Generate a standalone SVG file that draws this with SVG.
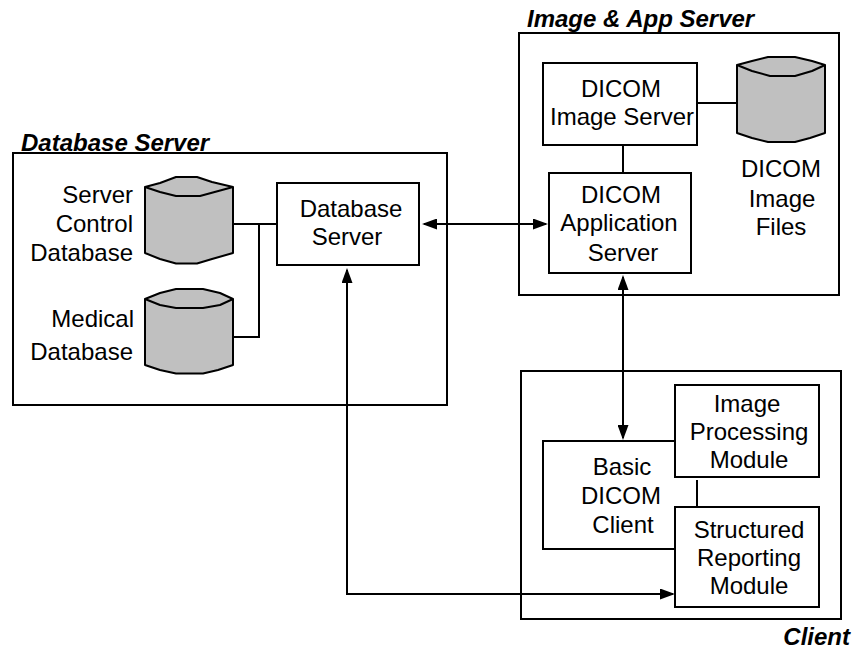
<svg xmlns="http://www.w3.org/2000/svg" width="852" height="650" viewBox="0 0 852 650">
<style>
.b{fill:#fff;stroke:#000;stroke-width:2}
.c{fill:#c0c0c0;stroke:#000;stroke-width:2;stroke-linejoin:round}
.l{fill:none;stroke:#000;stroke-width:2}
text{font-family:"Liberation Sans",Arial,sans-serif;font-size:24px;fill:#000}
.m{text-anchor:middle}
.e{text-anchor:end}
.t{font-weight:bold;font-style:italic;font-size:24px}
</style>
<defs>
<marker id="a" markerUnits="userSpaceOnUse" markerWidth="15" markerHeight="11" refX="13" refY="5.500" orient="auto-start-reverse" viewBox="0 0 15 11"><path d="M0 0L15 5.500L0 11z" fill="#000"/></marker>
</defs>
<g id="database-server-group"><rect class="b" x="13" y="153" width="434" height="252"/><text class="t" x="21" y="151">Database Server</text></g>
<g id="image-app-server-group"><rect class="b" x="519" y="33" width="320" height="262"/><text class="t" x="527" y="27">Image &amp; App Server</text></g>
<g id="client-group"><rect class="b" x="521" y="371" width="320" height="248"/><text class="t" x="850" y="645" text-anchor="end">Client</text></g>
<g id="connectors">
<path class="l" d="M233 224H277M259 224V337H233"/>
<path class="l" d="M697 103H737"/>
<path class="l" d="M623 145V173"/>
<path class="l" d="M697 480V507"/>
<path class="l" marker-start="url(#a)" marker-end="url(#a)" d="M424 224H546"/>
<path class="l" marker-start="url(#a)" marker-end="url(#a)" d="M623 277V438"/>
<path class="l" marker-start="url(#a)" marker-end="url(#a)" d="M347 270V594H673"/>
</g>
<g id="server-control-database">
<path class="c" d="M145 187L160 183L176 177H197L212 182L233 187V253L212 259L197 263.500H176L160 259L145 253z"/>
<path class="c" d="M145 187L160 192L176 196H200L233 187"/>
<text class="e" x="133" y="203">Server</text><text class="e" x="133" y="232">Control</text><text class="e" x="133" y="261">Database</text></g>
<g id="medical-database">
<path class="c" d="M145 299L160 293L176 289H203L220 293L233 299V365L218 370L203 373.500H176L160 370L145 365z"/>
<path class="c" d="M145 299L160 305L176 308H203L220 305L233 299"/>
<text class="e" x="134" y="327">Medical</text><text class="e" x="133" y="360">Database</text></g>
<g id="database-server"><rect class="b" x="277" y="183" width="142" height="82"/><text class="m" x="351" y="217">Database</text><text class="m" x="347" y="245">Server</text></g>
<g id="dicom-image-server"><rect class="b" x="543" y="63" width="154" height="82"/><text class="m" x="621" y="97">DICOM</text><text class="m" x="622" y="125">Image Server</text></g>
<g id="dicom-image-files">
<path class="c" d="M737 65L752 61L768 57H795L812 61L825 65V133L810 138L795 142H768L752 138L737 133z"/>
<path class="c" d="M737 65L752 71L770 76H795L812 71L825 65"/>
<text class="m" x="781" y="177">DICOM</text><text class="m" x="782" y="207">Image</text><text class="m" x="781" y="235">Files</text></g>
<g id="dicom-application-server"><rect class="b" x="549" y="173" width="142" height="100"/><text class="m" x="621" y="203">DICOM</text><text class="m" x="619" y="231">Application</text><text class="m" x="623" y="261">Server</text></g>
<g id="basic-dicom-client"><path class="b" d="M675 441H543V549H675"/><text class="m" x="622" y="475">Basic</text><text class="m" x="621" y="504">DICOM</text><text class="m" x="623" y="533">Client</text></g>
<g id="image-processing-module"><rect class="b" x="675" y="385" width="144" height="92"/><text class="m" x="747" y="412">Image</text><text class="m" x="749" y="440">Processing</text><text class="m" x="749" y="468">Module</text></g>
<g id="structured-reporting-module"><rect class="b" x="675" y="507" width="144" height="100"/><text class="m" x="749" y="538">Structured</text><text class="m" x="749" y="566">Reporting</text><text class="m" x="749" y="594">Module</text></g>
</svg>
